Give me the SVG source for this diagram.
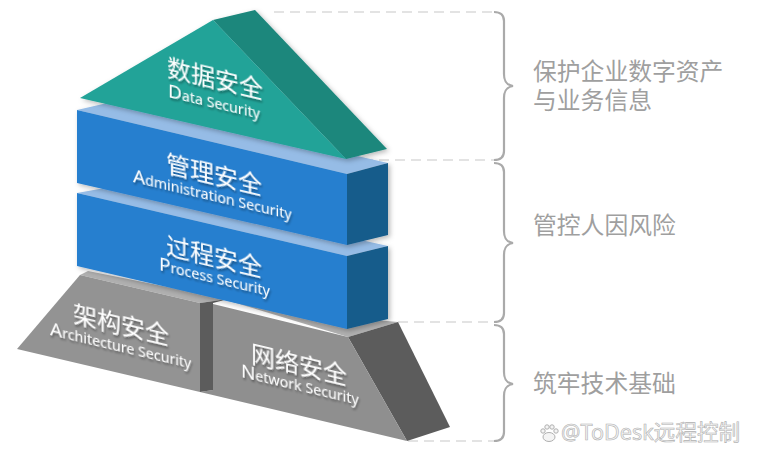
<svg xmlns="http://www.w3.org/2000/svg" width="757" height="459" viewBox="0 0 757 459">
<style>
.cn{font-family:"Noto Sans CJK SC","Noto Sans",sans-serif;font-size:24px;fill:#fff;filter:url(#ts)}
.en{font-family:"Noto Sans","Liberation Sans",sans-serif;font-size:14.2px;fill:#fff;filter:url(#ts)}
.en .c{font-size:19px}
.side{font-family:"Noto Sans CJK SC",sans-serif;font-size:23.8px;fill:#9f9f9f}
.dash{fill:none;stroke:#c8c8c8;stroke-width:1.2;stroke-dasharray:10 6}
.brace{fill:none;stroke:#aaa;stroke-width:2.2}
.wm{font-family:"Noto Sans","Noto Sans CJK SC",sans-serif;font-size:21.6px;fill:#f4f4f4;stroke:#b0b0b0;stroke-width:.6}
</style>
<defs>
<filter id="ts" x="-10%" y="-20%" width="125%" height="150%"><feDropShadow dx="1" dy="2" stdDeviation="1" flood-color="#000" flood-opacity=".4"/></filter>
<filter id="sh" x="-10%" y="-10%" width="125%" height="125%"><feDropShadow dx="2" dy="2" stdDeviation="2.5" flood-color="#000" flood-opacity=".28"/></filter>
</defs>
<rect width="757" height="459" fill="#fff"/>
<g id="connectors">
<path class="dash" d="M274 12H494M347 160H494M398 322H494M408 441H494"/>
<path class="brace" d="M494 12C500 12 504 14 504 21V74C504 82 507 85 513 86C507 87 504 90 504 98V151C504 158 500 160 494 160"/>
<path class="brace" d="M494 163C500 163 504 165 504 172V231C504 239 507 242 513 243C507 244 504 247 504 255V313C504 320 500 322 494 322"/>
<path class="brace" d="M494 325C500 325 504 327 504 334V372C504 380 507 383 513 384C507 385 504 388 504 396V432C504 439 500 441 494 441"/>
</g>
<g id="network-security">
<polygon points="213,300 226,300 348,337 398,322 376,320 250,290" fill="#b0b0b0"/>
<polygon points="348,337 398,322 450,427 407,441" fill="#5c5c5c"/>
<polygon points="213,304 348,337 407,441 200,392 213,390" fill="#8f8f8f"/>
<text class="cn" transform="matrix(1 .237 0 1 251 362)">网络安全</text>
<text class="en" transform="matrix(1 .237 0 1 241 377)"><tspan class="c">N</tspan>etwork Security</text>
</g>
<g id="architecture-security">
<polygon points="80,275 88,271 228,299 200,303" fill="#b0b0b0"/>
<polygon points="200,303 228,299 213,303 213,390 200,392" fill="#5c5c5c"/>
<polygon points="80,275 200,303 200,392 17,349" fill="#939393"/>
<text class="cn" transform="matrix(1 .237 0 1 73 322)">架构安全</text>
<text class="en" transform="matrix(1 .237 0 1 50 335)"><tspan class="c">A</tspan>rchitecture Security</text>
</g>
<g id="process-security">
<g filter="url(#sh)">
<polygon points="77,193 116,186 388,246 347,256" fill="#96bce6"/>
<polygon points="77,193 347,256 347,329 77,266" fill="#277fcf"/>
<polygon points="347,256 388,246 388,319 347,329" fill="#195c8b"/>
</g>
<text class="cn" transform="matrix(1 .237 0 1 166 254)">过程安全</text>
<text class="en" transform="matrix(1 .237 0 1 159 270)"><tspan class="c">P</tspan>rocess Security</text>
</g>
<g id="administration-security">
<g filter="url(#sh)">
<polygon points="77,110 116,101 388,163 347,174" fill="#96bce6"/>
<polygon points="77,110 347,174 347,245 77,183" fill="#277fcf"/>
<polygon points="347,174 388,163 388,235 347,245" fill="#195c8b"/>
</g>
<text class="cn" transform="matrix(1 .237 0 1 166 172)">管理安全</text>
<text class="en" transform="matrix(1 .237 0 1 133 182)"><tspan class="c">A</tspan>dministration Security</text>
</g>
<g id="data-security">
<g filter="url(#sh)">
<polygon points="213,20 255,10 387,149 346,159" fill="#1b877c"/>
<polygon points="80,98 213,20 346,159" fill="#22a398"/>
</g>
<text class="cn" transform="matrix(1 .237 0 1 167 76)">数据安全</text>
<text class="en" transform="matrix(1 .237 0 1 168 97)"><tspan class="c">D</tspan>ata Security</text>
</g>
<g id="descriptions">
<text class="side" x="533" y="80">保护企业数字资产</text>
<text class="side" x="533" y="109">与业务信息</text>
<text class="side" x="533" y="234">管控人因风险</text>
<text class="side" x="533" y="392">筑牢技术基础</text>
</g>
<g id="watermark">
<g fill="#f4f4f4" stroke="#b0b0b0" stroke-width="1">
<ellipse cx="549" cy="437" rx="6" ry="4.5"/>
<circle cx="543" cy="431" r="2.2"/><circle cx="547" cy="427" r="2.2"/><circle cx="552" cy="427" r="2.2"/><circle cx="556" cy="431" r="2.2"/>
</g>
<text class="wm" x="561" y="440">@ToDesk远程控制</text>
</g>
</svg>
